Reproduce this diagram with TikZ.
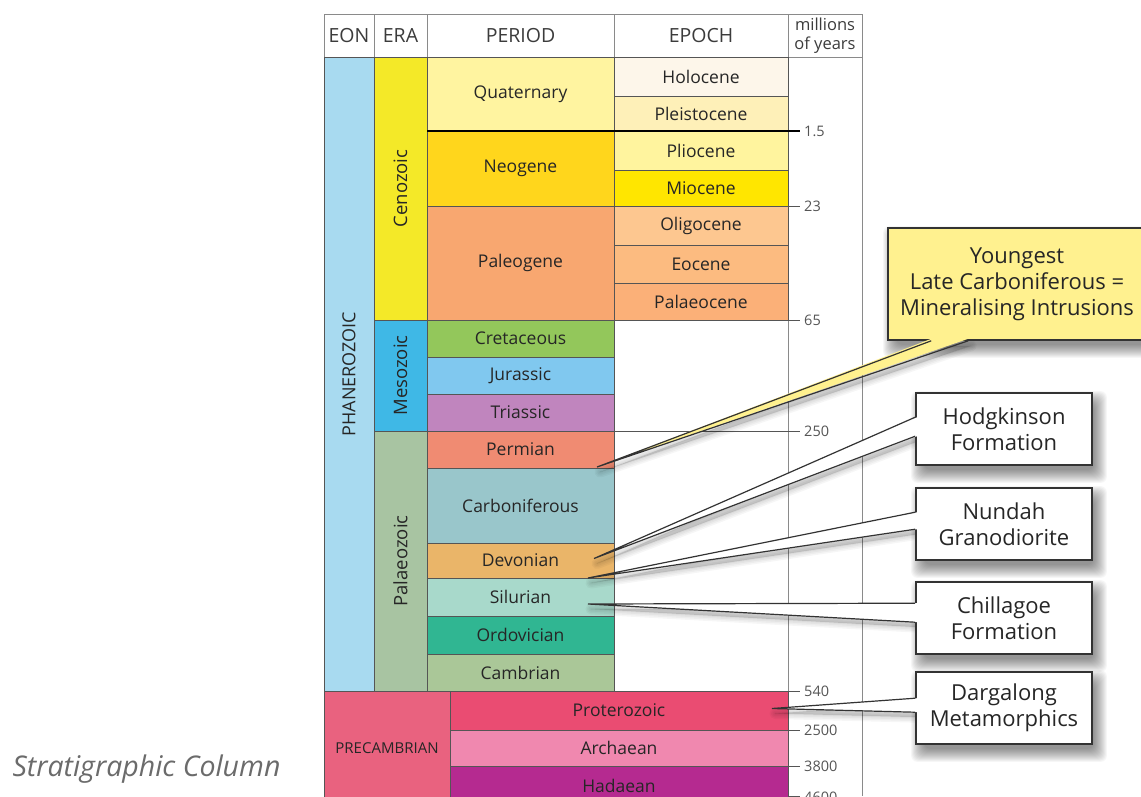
\documentclass[tikz,border=0pt]{standalone}
\usepackage{fontspec}
\setmainfont{Open Sans}
\usepackage{xcolor}
\usetikzlibrary{positioning, calc}

\definecolor{ink}{HTML}{262626}
\definecolor{edge}{HTML}{555555}
\definecolor{frame}{HTML}{8A8A8A}
\definecolor{tickgray}{HTML}{555555}
\definecolor{boxline}{HTML}{333333}
\definecolor{headink}{HTML}{3C3C3C}
\definecolor{captiongray}{HTML}{6B6B6B}
% eons and eras
\definecolor{phaner}{HTML}{A8DAF0}
\definecolor{cenoz}{HTML}{F4E928}
\definecolor{mesoz}{HTML}{3FB8E6}
\definecolor{palaeoz}{HTML}{A8C4A2}
\definecolor{precamb}{HTML}{E9627F}
% periods
\definecolor{quat}{HTML}{FFF4A0}
\definecolor{neog}{HTML}{FFD61C}
\definecolor{paleog}{HTML}{F8A770}
\definecolor{cret}{HTML}{93C75B}
\definecolor{jura}{HTML}{80C8EF}
\definecolor{trias}{HTML}{C085BE}
\definecolor{perm}{HTML}{F08B72}
\definecolor{carb}{HTML}{99C6CB}
\definecolor{devon}{HTML}{EAB569}
\definecolor{silur}{HTML}{A8D9CB}
\definecolor{ordov}{HTML}{30B692}
\definecolor{cambr}{HTML}{AAC798}
% epochs
\definecolor{holo}{HTML}{FDF6EA}
\definecolor{pleist}{HTML}{FEF0B8}
\definecolor{plio}{HTML}{FFF49E}
\definecolor{mio}{HTML}{FFE600}
\definecolor{oligo}{HTML}{FDC790}
\definecolor{eoc}{HTML}{FCBB80}
\definecolor{palaeoc}{HTML}{FBB078}
\definecolor{protero}{HTML}{EA4C72}
\definecolor{archae}{HTML}{F088AF}
\definecolor{hadae}{HTML}{B52A90}
\definecolor{youngfill}{HTML}{FFF18F}

\pgfdeclarelayer{shade}
\pgfdeclarelayer{front}
\pgfsetlayers{main,shade,front}

\begin{document}
\begin{tikzpicture}[x=1pt, y=-1pt,
  every node/.style={align=center, text=ink},
  cell/.style={draw=edge, line width=0.8pt, inner sep=0pt, outer sep=0pt, font=\fontsize{17.5}{20}\selectfont},
  percell/.style={cell, minimum width=187pt},
  epocell/.style={cell, minimum width=174pt},
  eoncell/.style={cell, minimum width=338pt},
  eracell/.style={cell, rotate=90, minimum height=53pt, font=\fontsize{18.5}{20}\selectfont},
  head/.style={cell, draw=frame, fill=white, minimum height=43pt, text=headink, font=\fontsize{19.5}{22}\selectfont},
  tickline/.style={draw=tickgray, line width=0.7pt},
  ticklabel/.style={anchor=west, inner sep=1pt, text=tickgray, font=\fontsize{14.5}{16}\selectfont},
  callbox/.style={draw=boxline, line width=1.6pt, fill=white, inner sep=0pt, minimum width=176pt, minimum height=72pt, font=\fontsize{22}{26}\selectfont},
  wedgeline/.style={draw=boxline, line width=1.2pt, line join=miter},
  shadelayer/.style={black, opacity=0.035}]
\useasboundingbox (0,0) rectangle (1141,796);
\clip (0,0) rectangle (1141,796);
\fill[white] (0,0) rectangle (1141,796);

% Header
\node[head, minimum width=50pt] (eon) at (349,35.5) {EON};
\node[head, minimum width=53pt] (era) at (400.5,35.5) {ERA};
\node[head, minimum width=187pt] (period) at (520.5,35.5) {PERIOD};
\node[head, minimum width=174pt] (epoch) at (701,35.5) {EPOCH};
\node[head, minimum width=74pt, font=\fontsize{16.5}{19.5}\selectfont] (myears) at (825,35.5) {millions\\of years};

% Column frame
\draw[frame, line width=1pt] (myears.south west) -- (788,796);
\draw[frame, line width=1pt] (myears.south east) -- (862,796);
\draw[frame, line width=1pt] (eon.south west) -- (324,796);

% Eon and eras
\node[eracell, fill=phaner, minimum width=634pt, minimum height=50pt, font=\fontsize{18}{20}\selectfont] (phanerozoic) at (349,374) {PHANEROZOIC};
\node[eracell, fill=cenoz, minimum width=263pt] (cenozoic) at (400.5,188.5) {Cenozoic};
\node[eracell, fill=mesoz, minimum width=111pt] (mesozoic) at (400.5,375.5) {Mesozoic};
\node[eracell, fill=palaeoz, minimum width=260pt] (palaeozoic) at (400.5,561) {Palaeozoic};

% Periods
\node[percell, fill=quat, minimum height=74pt] (quaternary) at (520.5,94) {Quaternary};
\node[percell, fill=neog, minimum height=75pt] (neogene) at (520.5,168.5) {Neogene};
\node[percell, fill=paleog, minimum height=114pt] (paleogene) at (520.5,263) {Paleogene};
\node[percell, fill=cret, minimum height=37pt] (cretaceous) at (520.5,338.5) {Cretaceous};
\node[percell, fill=jura, minimum height=37pt] (jurassic) at (520.5,375.5) {Jurassic};
\node[percell, fill=trias, minimum height=37pt] (triassic) at (520.5,412.5) {Triassic};
\node[percell, fill=perm, minimum height=37pt] (permian) at (520.5,449.5) {Permian};
\node[percell, fill=carb, minimum height=75pt] (carboniferous) at (520.5,505.5) {Carboniferous};
\node[percell, fill=devon, minimum height=35pt] (devonian) at (520.5,560.5) {Devonian};
\node[percell, fill=silur, minimum height=38pt] (silurian) at (520.5,597) {Silurian};
\node[percell, fill=ordov, minimum height=38pt] (ordovician) at (520.5,635) {Ordovician};
\node[percell, fill=cambr, minimum height=37pt] (cambrian) at (520.5,672.5) {Cambrian};

% Epochs
\node[epocell, fill=holo, minimum height=39pt] (holocene) at (701,76.5) {Holocene};
\node[epocell, fill=pleist, minimum height=35pt] (pleistocene) at (701,113.5) {Pleistocene};
\node[epocell, fill=plio, minimum height=39pt] (pliocene) at (701,150.5) {Pliocene};
\node[epocell, fill=mio, minimum height=36pt] (miocene) at (701,188) {Miocene};
\node[epocell, fill=oligo, minimum height=39pt] (oligocene) at (701,225.5) {Oligocene};
\node[epocell, fill=eoc, minimum height=38pt] (eocene) at (701,264) {Eocene};
\node[epocell, fill=palaeoc, minimum height=37pt] (palaeocene) at (701,301.5) {Palaeocene};

% Precambrian
\node[cell, fill=precamb, minimum width=126pt, minimum height=114pt, font=\fontsize{15}{17}\selectfont] (precambrian) at (387,748) {PRECAMBRIAN};
\node[eoncell, fill=protero, minimum height=39pt] (proterozoic) at (619,710.5) {Proterozoic};
\node[eoncell, fill=archae, minimum height=36pt] (archaean) at (619,748) {Archaean};
\node[eoncell, fill=hadae, minimum height=39pt] (hadaean) at (619,785.5) {Hadaean};

% Time scale
\draw[black, line width=1.4pt] (quaternary.south west) -- (800,131);
\draw[tickline] (788,206) -- (800,206);
\draw[tickline] (788,320) -- (800,320);
\draw[tickline] (614,431) -- (800,431);
\draw[tickline] (788,691) -- (800,691);
\draw[tickline] (788,730) -- (800,730);
\draw[tickline] (788,766) -- (800,766);
\draw[tickline] (788,796) -- (800,796);
\node[ticklabel] (t1) at (803,131) {1.5};
\node[ticklabel] (t2) at (803,206) {23};
\node[ticklabel] (t3) at (803,320) {65};
\node[ticklabel] (t4) at (803,431) {250};
\node[ticklabel] (t5) at (803,691) {540};
\node[ticklabel] (t6) at (803,730) {2500};
\node[ticklabel] (t7) at (803,766) {3800};
\node[ticklabel] (t8) at (803,797) {4600};

\begin{pgfonlayer}{front}
% Callouts
\node[callbox, fill=youngfill, minimum width=258pt, minimum height=112pt] (young) at (1017,284) {Youngest\\Late Carboniferous =\\Mineralising Intrusions};
\node[callbox] (hodg) at (1004,429) {Hodgkinson\\Formation};
\node[callbox] (nund) at (1004,524) {Nundah\\Granodiorite};
\node[callbox] (chil) at (1004,618) {Chillagoe\\Formation};
\node[callbox] (darg) at (1004,708) {Dargalong\\Metamorphics};

% Pointer tips and bases
\coordinate (tipY) at ($(carboniferous.north east)+(-17,-1)$);
\coordinate (tipH) at ($(devonian.east)+(-20,-2)$);
\coordinate (tipN) at ($(silurian.north east)+(-26,0)$);
\coordinate (tipC) at ($(silurian.east)+(-26,7)$);
\coordinate (tipD) at ($(proterozoic.east)+(-16,-2)$);
\coordinate (yA) at ($(young.south west)+(44,0)$);
\coordinate (yB) at ($(young.south west)+(81,0)$);
\coordinate (hA) at ($(hodg.north west)+(0,25)$);
\coordinate (hB) at ($(hodg.north west)+(0,44)$);
\coordinate (nA) at ($(nund.north west)+(0,25)$);
\coordinate (nB) at ($(nund.north west)+(0,42)$);
\coordinate (cA) at ($(chil.north west)+(0,22)$);
\coordinate (cB) at ($(chil.north west)+(0,41)$);
\coordinate (dA) at ($(darg.north west)+(0,27)$);
\coordinate (dB) at ($(darg.north west)+(0,41)$);

% Pointer wedges
\foreach \t/\a/\b/\c/\dx/\dy in {tipY/yA/yB/youngfill/0/-2, tipH/hA/hB/white/2/0, tipN/nA/nB/white/2/0, tipC/cA/cB/white/2/0, tipD/dA/dB/white/2/0} {
  \fill[\c] (\t) -- ($(\a)+(\dx,\dy)$) -- ($(\b)+(\dx,\dy)$) -- cycle;
  \draw[wedgeline] (\a) -- (\t) -- (\b);
}
\end{pgfonlayer}

% Soft shadows
\begin{pgfonlayer}{shade}
\foreach \bx in {young,hodg,nund,chil,darg}
  \foreach \e in {-4,-3,...,9}
    \fill[shadelayer, rounded corners=6pt] ($(\bx.north west)+(5-\e,8-\e)$) rectangle ($(\bx.south east)+(5+\e,8+\e)$);
\foreach \t/\a/\b in {tipY/yA/yB, tipH/hA/hB, tipN/nA/nB, tipC/cA/cB, tipD/dA/dB}
  \foreach \w in {2,5,8,11}
    \filldraw[shadelayer, line width=\w pt, line join=round] ($(\t)+(3,5)$) -- ($(\a)+(3,5)$) -- ($(\b)+(3,5)$) -- cycle;
\end{pgfonlayer}

% Caption
\node[anchor=west, text=captiongray, font=\fontsize{28.5}{32}\selectfont\itshape] (caption) at (9,769) {Stratigraphic Column};
\end{tikzpicture}
\end{document}
